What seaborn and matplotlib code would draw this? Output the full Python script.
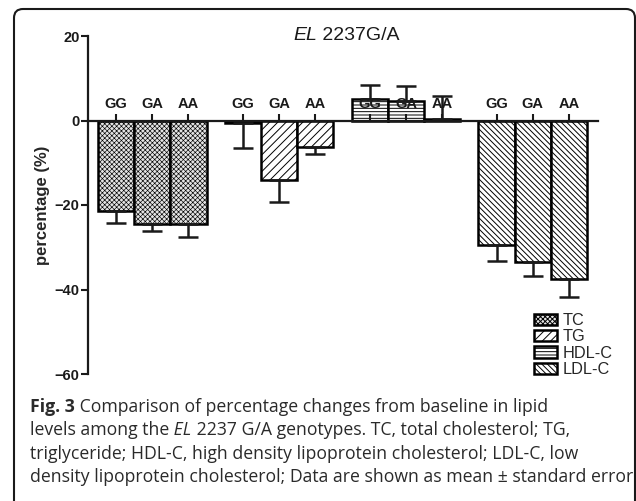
import numpy as np
import pandas as pd
import matplotlib
matplotlib.use("Agg")
import matplotlib.pyplot as plt
import seaborn as sns
from matplotlib.patches import Patch, FancyBboxPatch
from matplotlib.transforms import IdentityTransform

# values (mean change %, standard error)
genotypes = ["GG", "GA", "AA"]
lipids = ["TC", "TG", "HDL-C", "LDL-C"]
tc_mean = [-21.5, -24.4, -24.4]
tc_se = [2.8, 1.8, 3.2]
tg_mean = [-0.5, -14.2, -6.3]
tg_se = [5.9, 5.1, 1.6]
hdl_mean = [5.0, 4.5, 0.3]
hdl_se = [3.3, 3.6, 5.5]
ldl_mean = [-29.4, -33.4, -37.6]
ldl_se = [3.8, 3.4, 4.1]

hatches = ["xxxxxxx", "////", "-----", "\\\\\\\\\\\\"]
faces = ["#e4e4e4", "white", "white", "white"]
hatch_lw = [0.45, 0.7, 0.7, 0.7]

sns.set_theme(style="ticks")
plt.rcParams["font.family"] = ["Liberation Sans", "DejaVu Sans"]
plt.rcParams["hatch.linewidth"] = 0.7

rows = []
for g, (m, s) in enumerate([(tc_mean, tc_se), (tg_mean, tg_se),
                            (hdl_mean, hdl_se), (ldl_mean, ldl_se)]):
    for i in range(3):
        rows.append({"pos": g * 3.5 + i, "value": m[i], "se": s[i],
                     "lipid": lipids[g], "genotype": genotypes[i]})
df = pd.DataFrame(rows)

fig = plt.figure(figsize=(6.36, 5.01), dpi=100)
ax = fig.add_axes([88 / 636, 1 - 374 / 501, (598 - 88) / 636, (374 - 36) / 501])

sns.barplot(data=df, x="pos", y="value", hue="lipid", hue_order=lipids,
            native_scale=True, dodge=False, width=1.0, palette=faces,
            edgecolor="black", linewidth=1.8, errorbar=None, legend=False, ax=ax)
for cont, h, hl in zip(ax.containers, hatches, hatch_lw):
    for bar in cont:
        bar.set_hatch(h)
        bar.set_zorder(1)
        if hasattr(bar, "set_hatch_linewidth"):
            bar.set_hatch_linewidth(hl)

lower = np.where(df["value"] < 0, df["se"], 0)
upper = np.where(df["value"] >= 0, df["se"], 0)
ax.errorbar(df["pos"], df["value"], yerr=[lower, upper], fmt="none",
            ecolor="#1a1a1a", elinewidth=1.8, capsize=7.5, capthick=1.8, zorder=3)

ax.set_axisbelow(False)
ax.set_ylim(-60, 20)
ax.set_yticks([20, 0, -20, -40, -60])
ax.set_xlim(-0.77, 13.3)
ax.spines["right"].set_visible(False)
ax.spines["bottom"].set_visible(False)
ax.spines["top"].set_position(("data", 0))
for sp in ["top", "left"]:
    ax.spines[sp].set_linewidth(1.6)
    ax.spines[sp].set_color("#1a1a1a")
ax.xaxis.set_ticks_position("top")
ax.set_xticks(df["pos"])
ax.set_xticklabels(df["genotype"])
ax.tick_params(axis="x", direction="out", length=5, width=1.5, pad=2,
               labelsize=10.5, labeltop=True, labelbottom=False, colors="#1a1a1a")
ax.tick_params(axis="y", direction="out", length=5, width=1.5, pad=1,
               labelsize=10.5, colors="#1a1a1a")
for lab in ax.get_xticklabels() + ax.get_yticklabels():
    lab.set_fontweight("bold")
ax.set_xlabel("")
ax.set_ylabel("percentage (%)", fontsize=12, fontweight="bold", labelpad=3)

handles = [Patch(facecolor=f, edgecolor="black", hatch=h, linewidth=1.8, label=l)
           for f, h, l in zip(faces, hatches, lipids)]
ax.legend(handles=handles, loc="upper left", bbox_to_anchor=(534 / 636, 1 - 313 / 501),
          bbox_transform=fig.transFigure, frameon=False, fontsize=11.7,
          handlelength=1.4, handleheight=0.7, handletextpad=0.35,
          labelspacing=0.08, borderpad=0, borderaxespad=0)


def rich_text(x, y, parts, size, family, color):
    t = fig.text(x, y, parts[0][0], fontsize=size, family=family, color=color,
                 va="baseline", ha="left", **parts[0][1])
    for s, style in parts[1:]:
        t = ax.annotate(s, xy=(1, 0), xycoords=t, xytext=(0, 0),
                        textcoords="offset points", va="bottom", ha="left",
                        fontsize=size, family=family, color=color,
                        annotation_clip=False, **style)


rich_text(293 / 636, 1 - 40 / 501, [("EL", {"style": "italic"}), (" 2237G/A", {})],
          14, "Liberation Sans", "#1a1a1a")

cap_font = "Open Sans"
cap_size = 12.7
caption = [
    [("Fig. 3", {"weight": "bold"}),
     (" Comparison of percentage changes from baseline in lipid", {})],
    [("levels among the", {}), (" EL", {"style": "italic"}),
     (" 2237 G/A genotypes. TC, total cholesterol; TG,", {})],
    [("triglyceride; HDL-C, high density lipoprotein cholesterol; LDL-C, low", {})],
    [("density lipoprotein cholesterol; Data are shown as mean \u00b1 standard error", {})],
]
for k, parts in enumerate(caption):
    rich_text(30 / 636, 1 - (412 + 23.3 * k) / 501, parts, cap_size, cap_font, "#2a2a2a")

frame = FancyBboxPatch((14, -20), 621, 512, boxstyle="round,pad=0,rounding_size=9",
                       transform=IdentityTransform(), fill=False, linewidth=1.5,
                       edgecolor="#1a1a1a")
fig.add_artist(frame)

fig.savefig("out.png", dpi=100)
